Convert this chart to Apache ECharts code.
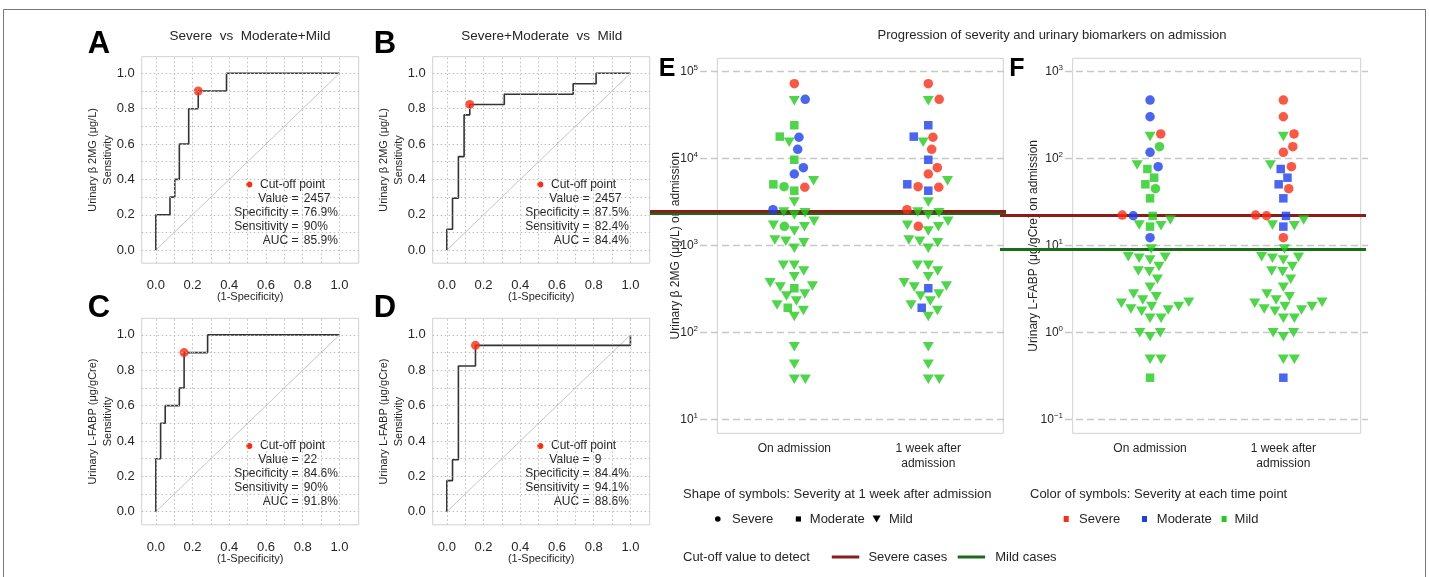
<!DOCTYPE html>
<html>
<head>
<meta charset="utf-8">
<title></title>
<script src="https://cdn.jsdelivr.net/npm/echarts@6.0.0/dist/echarts.min.js"></script>
</head>
<body style="margin:0;background:#fff;">
<div id="my" style="width:1429px;height:577px;"></div>
<script>
// severity codes: 0 = Severe, 1 = Moderate, 2 = Mild
var sevNames = ['Severe', 'Moderate', 'Mild'];
var sevColors = ['#fb2c17', '#1c3ef0', '#22cc1c'];
var cutNames = ['Severe cases', 'Mild cases'];
var cutColors = ['#8b1c18', '#1c6a1c'];
var timePoints = ['On admission', '1 week after\nadmission'];

// ROC curves: vertices of the step line (1-specificity, sensitivity)
var rocAx = [0, 0, 0.077, 0.077, 0.103, 0.103, 0.128, 0.128, 0.179, 0.179, 0.231, 0.231, 0.385, 0.385, 1];
var rocAy = [0, 0.2, 0.2, 0.3, 0.3, 0.4, 0.4, 0.6, 0.6, 0.8, 0.8, 0.9, 0.9, 1, 1];
var rocBx = [0, 0, 0.031, 0.031, 0.063, 0.063, 0.094, 0.094, 0.125, 0.125, 0.313, 0.313, 0.688, 0.688, 0.813, 0.813, 1];
var rocBy = [0, 0.118, 0.118, 0.294, 0.294, 0.529, 0.529, 0.765, 0.765, 0.824, 0.824, 0.882, 0.882, 0.941, 0.941, 1, 1];
var rocCx = [0, 0, 0.026, 0.026, 0.051, 0.051, 0.128, 0.128, 0.154, 0.154, 0.282, 0.282, 1];
var rocCy = [0, 0.3, 0.3, 0.5, 0.5, 0.6, 0.6, 0.7, 0.7, 0.9, 0.9, 1, 1];
var rocDx = [0, 0, 0.031, 0.031, 0.063, 0.063, 0.156, 0.156, 1, 1];
var rocDy = [0, 0.176, 0.176, 0.294, 0.294, 0.824, 0.824, 0.941, 0.941, 1];
var rocCut = [[0.231, 0.9], [0.125, 0.824], [0.154, 0.9], [0.156, 0.941]];
var rocValue = ['2457', '2457', '22', '9'];
var rocSpec = ['76.9%', '87.5%', '84.6%', '84.4%'];
var rocSens = ['90%', '82.4%', '90%', '94.1%'];
var rocAuc = ['85.9%', '84.4%', '91.8%', '88.6%'];
var rocTitles = ['Severe  vs  Moderate+Mild', 'Severe+Moderate  vs  Mild'];
var rocMarkers = ['Urinary β 2MG (μg/L)', 'Urinary β 2MG (μg/L)', 'Urinary L-FABP (μg/gCre)', 'Urinary L-FABP (μg/gCre)'];
var gridTicks = [0, 0.1, 0.2, 0.3, 0.4, 0.5, 0.6, 0.7, 0.8, 0.9, 1];

// E: urinary b2MG on admission, one value per patient
var b2mg = [72800, 48100, 46400, 24200, 17900, 17600, 15400, 12800, 9700, 7850,
  6650, 5570, 5060, 4750, 4680, 4270, 3160, 2580, 2430, 2385,
  2240, 1900, 1708, 1663, 1646, 1469, 1156, 1117, 1077, 929,
  592, 592, 509, 438, 373, 342, 333, 322, 277, 262,
  230, 206, 192, 179, 152, 68.5, 43, 28.8, 28.8];
var b2mgAdm = [0, 1, 2, 2, 2, 1, 2, 1, 2, 1, 1, 2, 2, 2, 0, 2, 2, 1, 2, 2,
  2, 2, 2, 2, 2, 2, 2, 2, 2, 2, 2, 2, 2, 2, 2, 2, 2, 2, 2, 2, 2, 2, 2, 2, 2, 2, 2, 2, 2];
var b2mgWeek = [0, 0, 2, 1, 1, 0, 2, 0, 1, 0, 0, 2, 1, 0, 0, 1, 2, 0, 2, 2,
  2, 2, 2, 0, 2, 2, 2, 2, 2, 2, 2, 2, 2, 2, 2, 2, 2, 1, 2, 2, 2, 2, 1, 2, 2, 2, 2, 2, 2];
var b2mgCut = [2457, 2457];

// F: urinary L-FABP on admission
var lfabp = [472, 303, 192, 179, 137, 118, 84.3, 80.7, 75.9, 60.3,
  50.6, 45, 34.9, 22.4, 22, 21.9, 19.7, 17.2, 16.9, 16.5,
  12.3, 9.1, 7.43, 7.31, 7.12, 6.81, 5.75, 5.1, 5.0, 4.1,
  3.3, 2.77, 2.58, 2.36, 2.22, 2.16, 1.98, 1.98, 1.86, 1.81,
  1.75, 1.45, 1.45, 0.99, 0.99, 0.89, 0.49, 0.49, 0.301];
var lfabpAdm = [1, 1, 0, 2, 2, 1, 2, 1, 2, 2, 2, 2, 2, 0, 1, 2, 2, 2, 2, 2,
  1, 2, 2, 2, 2, 2, 2, 2, 2, 2, 2, 2, 2, 2, 2, 2, 2, 2, 2, 2, 2, 2, 2, 2, 2, 2, 2, 2, 2];
var lfabpWeek = [0, 0, 0, 2, 0, 0, 2, 0, 1, 1, 1, 0, 1, 0, 0, 1, 2, 2, 2, 1,
  0, 2, 2, 2, 2, 2, 2, 2, 2, 2, 2, 2, 2, 2, 2, 2, 2, 2, 2, 2, 2, 2, 2, 2, 2, 2, 2, 2, 1];
var lfabpCut = [22, 9];

var myChart = echarts.init(document.getElementById('my'));
var font = '"Liberation Sans", Arial, sans-serif';
var ink = '#262626';
var boxColor = '#d0d0d0';
var dotRed = '#ff2a10';

var grids = [], xAxes = [], yAxes = [], series = [], graphics = [];

function txt(s, x, y, size, align, extra) {
	var st = {text: s, fontSize: size, fontFamily: font, fill: ink, align: align || 'left', verticalAlign: 'middle'};
	for (var k in (extra || {})) st[k] = extra[k];
	return {type: 'text', x: x, y: y, silent: true, style: st};
}
function plainLabel(size, margin) {
	return {margin: margin, fontSize: size, color: ink, fontFamily: font, showMinLabel: false, showMaxLabel: false};
}

// ---- ROC panels A-D ----
var rocX = [rocAx, rocBx, rocCx, rocDx], rocY = [rocAy, rocBy, rocCy, rocDy];
var rocPos = [[141.7, 56.7], [432.7, 56.7], [141.7, 318.3], [432.7, 318.3]];
rocPos.forEach(function (p, i) {
	grids.push({left: p[0], top: p[1], width: 217, height: 206.5, show: true, borderColor: boxColor, borderWidth: 1});
	var xl = plainLabel(13, 16);
	xl.formatter = function (v) { return v.toFixed(1); };
	var yl = plainLabel(13, 7);
	yl.formatter = xl.formatter;
	xAxes.push({gridIndex: i, type: 'value', min: -0.077, max: 1.105,
		name: '(1-Specificity)', nameLocation: 'middle', nameGap: 28.5, nameMoveOverlap: false,
		nameTextStyle: {fontSize: 11, color: ink, fontFamily: font},
		axisLine: {show: false}, axisTick: {show: false}, splitLine: {show: false}, axisLabel: xl});
	yAxes.push({gridIndex: i, type: 'value', min: -0.074, max: 1.094,
		name: rocMarkers[i] + '\nSensitivity', nameLocation: 'middle', nameGap: 26, nameMoveOverlap: false,
		nameTextStyle: {fontSize: 11, lineHeight: 15, color: ink, fontFamily: font},
		axisLine: {show: false}, axisTick: {show: false}, splitLine: {show: false}, axisLabel: yl});
	// diagonal + dotted grid
	series.push({type: 'line', xAxisIndex: i, yAxisIndex: i, data: [[0, 0], [1, 1]], symbol: 'none', silent: true, z: 1,
		lineStyle: {color: '#c6c6c6', width: 1},
		markLine: {silent: true, symbol: 'none', animation: false, label: {show: false},
			lineStyle: {color: '#bcbcbc', width: 1, type: [1.5, 2.5]},
			data: gridTicks.map(function (v) { return {xAxis: v}; }).concat(gridTicks.map(function (v) { return {yAxis: v}; }))}});
	series.push({type: 'line', xAxisIndex: i, yAxisIndex: i, symbol: 'none', silent: true, z: 3,
		data: rocX[i].map(function (x, k) { return [x, rocY[i][k]]; }),
		lineStyle: {color: '#333', width: 1.6}});
	series.push({type: 'scatter', xAxisIndex: i, yAxisIndex: i, data: [rocCut[i]], symbolSize: 9, silent: true, z: 4,
		itemStyle: {color: dotRed}});

	// cut-off legend inside the panel
	var lx = p[0] + 107.6, ly = p[1] + 127.8;
	graphics.push({type: 'circle', silent: true, shape: {cx: lx, cy: ly, r: 3}, style: {fill: dotRed}});
	graphics.push(txt('Cut-off point', lx + 10.7, ly, 12));
	var names = ['Value =', 'Specificity =', 'Sensitivity =', 'AUC ='];
	var vals = [rocValue[i], rocSpec[i], rocSens[i], rocAuc[i]];
	names.forEach(function (n, k) {
		graphics.push(txt(n, lx + 49.2, ly + 14 * (k + 1), 12, 'right'));
		graphics.push(txt(vals[k], lx + 54.5, ly + 14 * (k + 1), 12, 'left'));
	});
});

// ---- swarm panels E, F ----
function powLabel(v) {
	var e = Math.round(Math.log(v) / Math.LN10);
	return '{b|10}{s|' + (e < 0 ? '\u2212' + (-e) : e) + '}';
}
var swarmPanels = [
	{vals: b2mg, adm: b2mgAdm, wk: b2mgWeek, cut: b2mgCut, name: 'Urinary β 2MG (μg/L) on admission',
		min: 6.9, max: 142600, dataBox: [700, 308, 0.296, 2.595], frame: [717.3, 286], line: [650, 356], gap: 18},
	{vals: lfabp, adm: lfabpAdm, wk: lfabpWeek, cut: lfabpCut, name: 'Urinary L-FABP (μg/gCre) on admission',
		min: 0.069, max: 1426, dataBox: [1065, 303, 0.362, 2.635], frame: [1072.7, 288], line: [1000, 366], gap: 25}
];
swarmPanels.forEach(function (p, k) {
	var g = grids.length;
	grids.push({left: p.dataBox[0], top: 58.3, width: p.dataBox[1], height: 375});
	grids.push({left: p.frame[0], top: 58.3, width: p.frame[1], height: 375, show: true, borderColor: boxColor, borderWidth: 1});
	grids.push({left: p.line[0], top: 58.3, width: p.line[1], height: 375});
	xAxes.push({gridIndex: g, type: 'value', min: p.dataBox[2], max: p.dataBox[3],
		axisLine: {show: false, onZero: false}, axisTick: {show: false}, splitLine: {show: false},
		axisLabel: {margin: 8.5, fontSize: 12, lineHeight: 14.3, color: ink, fontFamily: font, showMinLabel: false, showMaxLabel: false,
			formatter: function (v) {
				if (Math.abs(v - 1) < 1e-6) return timePoints[0];
				if (Math.abs(v - 2) < 1e-6) return timePoints[1];
				return '';
			}}});
	yAxes.push({gridIndex: g, type: 'log', logBase: 10, min: p.min, max: p.max,
		name: p.name, nameLocation: 'middle', nameGap: p.gap, nameMoveOverlap: false,
		nameTextStyle: {fontSize: 12, color: ink, fontFamily: font},
		axisLine: {show: false}, axisTick: {show: false},
		splitLine: {show: true, showMinLine: false, showMaxLine: false, lineStyle: {color: '#c8c8c8', width: 1.3, type: [7, 4]}},
		axisLabel: {margin: 2, showMinLabel: false, showMaxLabel: false, formatter: powLabel,
			rich: {b: {fontSize: 12, color: ink, fontFamily: font}, s: {fontSize: 8, color: ink, fontFamily: font, padding: [0, 0, 7, 0]}}}});
	xAxes.push({gridIndex: g + 1, type: 'value', show: false});
	yAxes.push({gridIndex: g + 1, type: 'value', show: false});
	xAxes.push({gridIndex: g + 2, type: 'value', min: 0, max: 1, show: false});
	yAxes.push({gridIndex: g + 2, type: 'log', logBase: 10, min: p.min, max: p.max, show: false});
	var same = p.cut[0] === p.cut[1];
	series.push({type: 'line', xAxisIndex: g + 2, yAxisIndex: g + 2, data: [], silent: true, z: 4,
		markLine: {silent: true, symbol: 'none', animation: false, label: {show: false},
			data: [
				{yAxis: p.cut[1], lineStyle: {color: cutColors[1], width: 3, type: 'solid',
					shadowColor: cutColors[1], shadowBlur: 0, shadowOffsetY: same ? 2 : 0}},
				{yAxis: p.cut[0], lineStyle: {color: cutColors[0], width: 3, type: 'solid'}}
			]}});
	p.grid = g;
});

// ---- titles, letters, legends ----
graphics.push(txt(rocTitles[0], 250, 36.7, 13.5, 'center'));
graphics.push(txt(rocTitles[1], 541.7, 36.7, 13.5, 'center'));
graphics.push(txt('Progression of severity and urinary biomarkers on admission', 1052, 35, 13, 'center'));
[['A', 99, 44], ['B', 385, 44], ['C', 99, 308], ['D', 385, 308]].forEach(function (l) {
	graphics.push(txt(l[0], l[1], l[2], 31, 'center', {fontWeight: 'bold', fill: '#000'}));
});
[['E', 667, 69], ['F', 1017, 69]].forEach(function (l) {
	graphics.push(txt(l[0], l[1], l[2], 25, 'center', {fontWeight: 'bold', fill: '#000'}));
});

graphics.push(txt('Shape of symbols: Severity at 1 week after admission', 683, 494, 13));
graphics.push(txt('Color of symbols: Severity at each time point', 1030, 494, 13));
var shapeX = [717.8, 798.4, 876.6], shapeTx = [732, 809.8, 889];
var colorX = [1066.2, 1144.5, 1224.1], colorTx = [1079, 1156.8, 1234.6];
var ly2 = 519;
graphics.push({type: 'circle', silent: true, shape: {cx: shapeX[0], cy: ly2, r: 2.8}, style: {fill: '#000'}});
graphics.push({type: 'rect', silent: true, shape: {x: shapeX[1] - 2.6, y: ly2 - 2.6, width: 5.2, height: 5.2}, style: {fill: '#000'}});
graphics.push({type: 'polygon', silent: true, shape: {points: [[shapeX[2] - 4, ly2 - 3.5], [shapeX[2] + 4, ly2 - 3.5], [shapeX[2], ly2 + 3.5]]}, style: {fill: '#000'}});
sevNames.forEach(function (n, s) {
	graphics.push(txt(n, shapeTx[s], ly2, 13));
	graphics.push({type: 'rect', silent: true, shape: {x: colorX[s] - 2.5, y: ly2 - 3, width: 5, height: 6}, style: {fill: sevColors[s]}});
	graphics.push(txt(n, colorTx[s], ly2, 13));
});
var ly3 = 557;
graphics.push(txt('Cut-off value to detect', 683, ly3, 13));
var cutLineX = [[831.8, 859.3], [957.7, 985.1]], cutTx = [868.4, 995.2];
cutNames.forEach(function (n, c) {
	graphics.push({type: 'line', silent: true, shape: {x1: cutLineX[c][0], y1: ly3, x2: cutLineX[c][1], y2: ly3}, style: {stroke: cutColors[c], lineWidth: 3}});
	graphics.push(txt(n, cutTx[c], ly3, 13));
});
graphics.push({type: 'rect', silent: true, shape: {x: 3.5, y: 9.5, width: 1422, height: 600}, style: {fill: 'none', stroke: '#777', lineWidth: 1}});

var option = {
	animation: false,
	backgroundColor: '#fff',
	grid: grids,
	xAxis: xAxes,
	yAxis: yAxes,
	series: series,
	graphic: graphics
};
myChart.setOption(option);

// beeswarm layout (points placed in ascending order, nearest free slot to the centre)
function swarm(py, d) {
	var order = py.map(function (_, i) { return i; });
	order.sort(function (a, b) { return py[b] - py[a]; });
	var xs = [], placed = [];
	order.forEach(function (i) {
		var cands = [0];
		placed.forEach(function (j) {
			var dy = Math.abs(py[i] - py[j]);
			if (dy < d) {
				var dx = Math.sqrt(d * d - dy * dy);
				cands.push(xs[j] + dx, xs[j] - dx);
			}
		});
		cands.sort(function (a, b) { return (Math.abs(a) - Math.abs(b)) || (b - a); });
		for (var c = 0; c < cands.length; c++) {
			var ok = true;
			for (var m = 0; m < placed.length; m++) {
				var j = placed[m], ddx = cands[c] - xs[j], ddy = py[i] - py[j];
				if (ddx * ddx + ddy * ddy < d * d - 0.01) { ok = false; break; }
			}
			if (ok) { xs[i] = cands[c]; break; }
		}
		placed.push(i);
	});
	return xs;
}

var shapes = ['circle', 'rect', 'triangle'];
var shapeSizes = [9.5, 8.5, [11, 9.5]];
swarmPanels.forEach(function (p) {
	var g = p.grid;
	var py = p.vals.map(function (v) { return myChart.convertToPixel({yAxisIndex: g}, v); });
	var ppu = myChart.convertToPixel({xAxisIndex: g}, 2) - myChart.convertToPixel({xAxisIndex: g}, 1);
	var off = swarm(py, 11);
	[p.adm, p.wk].forEach(function (col, c) {
		series.push({type: 'scatter', xAxisIndex: g, yAxisIndex: g, silent: true, z: 5,
			data: p.vals.map(function (v, i) {
				var s = p.wk[i];
				return {value: [c + 1 + off[i] / ppu, v], symbol: shapes[s], symbolSize: shapeSizes[s],
					symbolRotate: s === 2 ? 180 : 0, itemStyle: {color: sevColors[col[i]]}};
			})});
	});
});
myChart.setOption({series: series});
</script>
</body>
</html>
